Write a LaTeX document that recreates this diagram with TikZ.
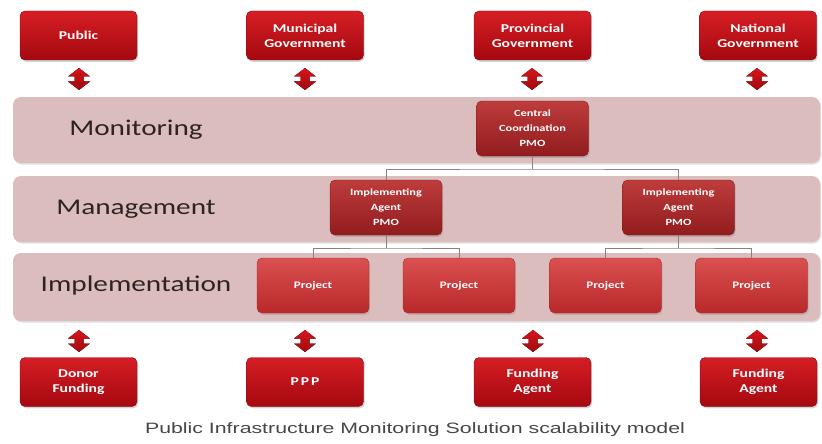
\documentclass[tikz,border=0pt]{standalone}
\usepackage{fontspec}
\usetikzlibrary{shadows}
\newfontfamily\boxfont[FakeStretch=1.3]{Carlito}
\newfontfamily\capfont[FakeStretch=1.42]{Liberation Sans}
\definecolor{bandfill}{HTML}{DCBDBD}
\definecolor{linegray}{HTML}{8E8080}
\tikzset{
  outerbox/.style={rounded corners=5pt, top color={rgb,255:red,214;green,30;blue,36}, bottom color={rgb,255:red,165;green,8;blue,16},
    draw={rgb,255:red,125;green,10;blue,14}, line width=0.4pt, minimum width=117pt, minimum height=49pt,
    text=white, align=center, font=\boxfont\bfseries\fontsize{12}{15}\selectfont,
    drop shadow={opacity=0.35, shadow xshift=1.2pt, shadow yshift=-1.8pt}},
  midbox/.style={rounded corners=5pt, top color={rgb,255:red,190;green,60;blue,60}, bottom color={rgb,255:red,145;green,28;blue,30},
    draw={rgb,255:red,120;green,20;blue,20}, line width=0.3pt, minimum width=112pt, minimum height=55pt,
    text=white, align=center, font=\boxfont\bfseries\fontsize{9.5}{15}\selectfont,
    drop shadow={opacity=0.35, shadow xshift=1.2pt, shadow yshift=-1.8pt}},
  projbox/.style={rounded corners=5pt, top color={rgb,255:red,218;green,80;blue,80}, bottom color={rgb,255:red,185;green,40;blue,42},
    draw={rgb,255:red,160;green,40;blue,40}, line width=0.3pt, minimum width=112pt, minimum height=55pt,
    text=white, align=center, font=\boxfont\bfseries\fontsize{10}{15}\selectfont,
    drop shadow={opacity=0.3, shadow xshift=1.2pt, shadow yshift=-1.8pt}},
  band/.style={rounded corners=8pt, fill=bandfill, draw=none, minimum width=807pt,
    drop shadow={opacity=0.25, shadow xshift=1pt, shadow yshift=-1.5pt}},
  bandlabel/.style={text={rgb,255:red,45;green,35;blue,35}, font=\boxfont\fontsize{22.5}{24}\selectfont},
  conn/.style={draw=linegray, line width=1pt},
  darr/.pic={\fill[top color={rgb,255:red,215;green,20;blue,25}, bottom color={rgb,255:red,160;green,10;blue,15}]
     (0,-11) -- (11,-2.5) -- (4.5,-2.5) -- (4.5,2.5) -- (11,2.5) -- (0,11) -- (-11,2.5) -- (-4.5,2.5) -- (-4.5,-2.5) -- (-11,-2.5) -- cycle;}
}
\begin{document}
\begin{tikzpicture}[x=1pt,y=-1pt]
\useasboundingbox (0,0) rectangle (822,444);
% bands
\node[band, minimum height=66pt] (bmon) at (416.5,130) {};
\node[band, minimum height=66pt] (bman) at (416.5,209) {};
\node[band, minimum height=68pt] (bimp) at (416.5,287) {};
\node[bandlabel] (lmon) at (136,130) {Monitoring};
\node[bandlabel] (lman) at (136,209) {Management};
\node[bandlabel] (limp) at (136,285) {Implementation};
% top boxes
\node[outerbox] (pub) at (78.5,35.5) {Public};
\node[outerbox] (mun) at (305,35.5) {Municipal\\Government};
\node[outerbox] (pro) at (532.5,35.5) {Provincial\\Government};
\node[outerbox] (nat) at (758,35.5) {National\\Government};
% bottom boxes
\node[outerbox] (don) at (78.5,382) {Donor\\Funding};
\node[outerbox] (ppp) at (305,382) {P\,P\,P};
\node[outerbox] (fa1) at (532.5,382) {Funding\\Agent};
\node[outerbox] (fa2) at (758.5,382) {Funding\\Agent};
% double arrows
\pic at (79,79) {darr};
\pic at (305,79) {darr};
\pic at (532,79) {darr};
\pic at (757,79) {darr};
\pic at (79,341) {darr};
\pic at (305,341) {darr};
\pic at (533,341) {darr};
\pic at (757,341) {darr};
% junctions
\coordinate (j0) at (532.5,169);
\coordinate (j1) at (386,248);
\coordinate (j2) at (678.5,248);
% hierarchy boxes
\node[midbox] (cc) at (532.5,128.5) {Central\\Coordination\\PMO};
\node[midbox] (ia1) at (386,207.5) {Implementing\\Agent\\PMO};
\node[midbox] (ia2) at (678.5,207.5) {Implementing\\Agent\\PMO};
\node[projbox] (p1) at (313,285.5) {Project};
\node[projbox] (p2) at (459,285.5) {Project};
\node[projbox] (p3) at (605.5,285.5) {Project};
\node[projbox] (p4) at (751.5,285.5) {Project};
% connectors
\draw[conn] (cc.south) -- (j0);
\draw[conn] (ia1.north) |- (j0) -| (ia2.north);
\draw[conn] (ia1.south) -- (j1);
\draw[conn] (p1.north) |- (j1) -| (p2.north);
\draw[conn] (ia2.south) -- (j2);
\draw[conn] (p3.north) |- (j2) -| (p4.north);
% caption
\node[text={rgb,255:red,70;green,70;blue,70}, font=\capfont\fontsize{15}{17}\selectfont] (cap) at (415,430) {Public Infrastructure Monitoring Solution scalability model};
\end{tikzpicture}
\end{document}
